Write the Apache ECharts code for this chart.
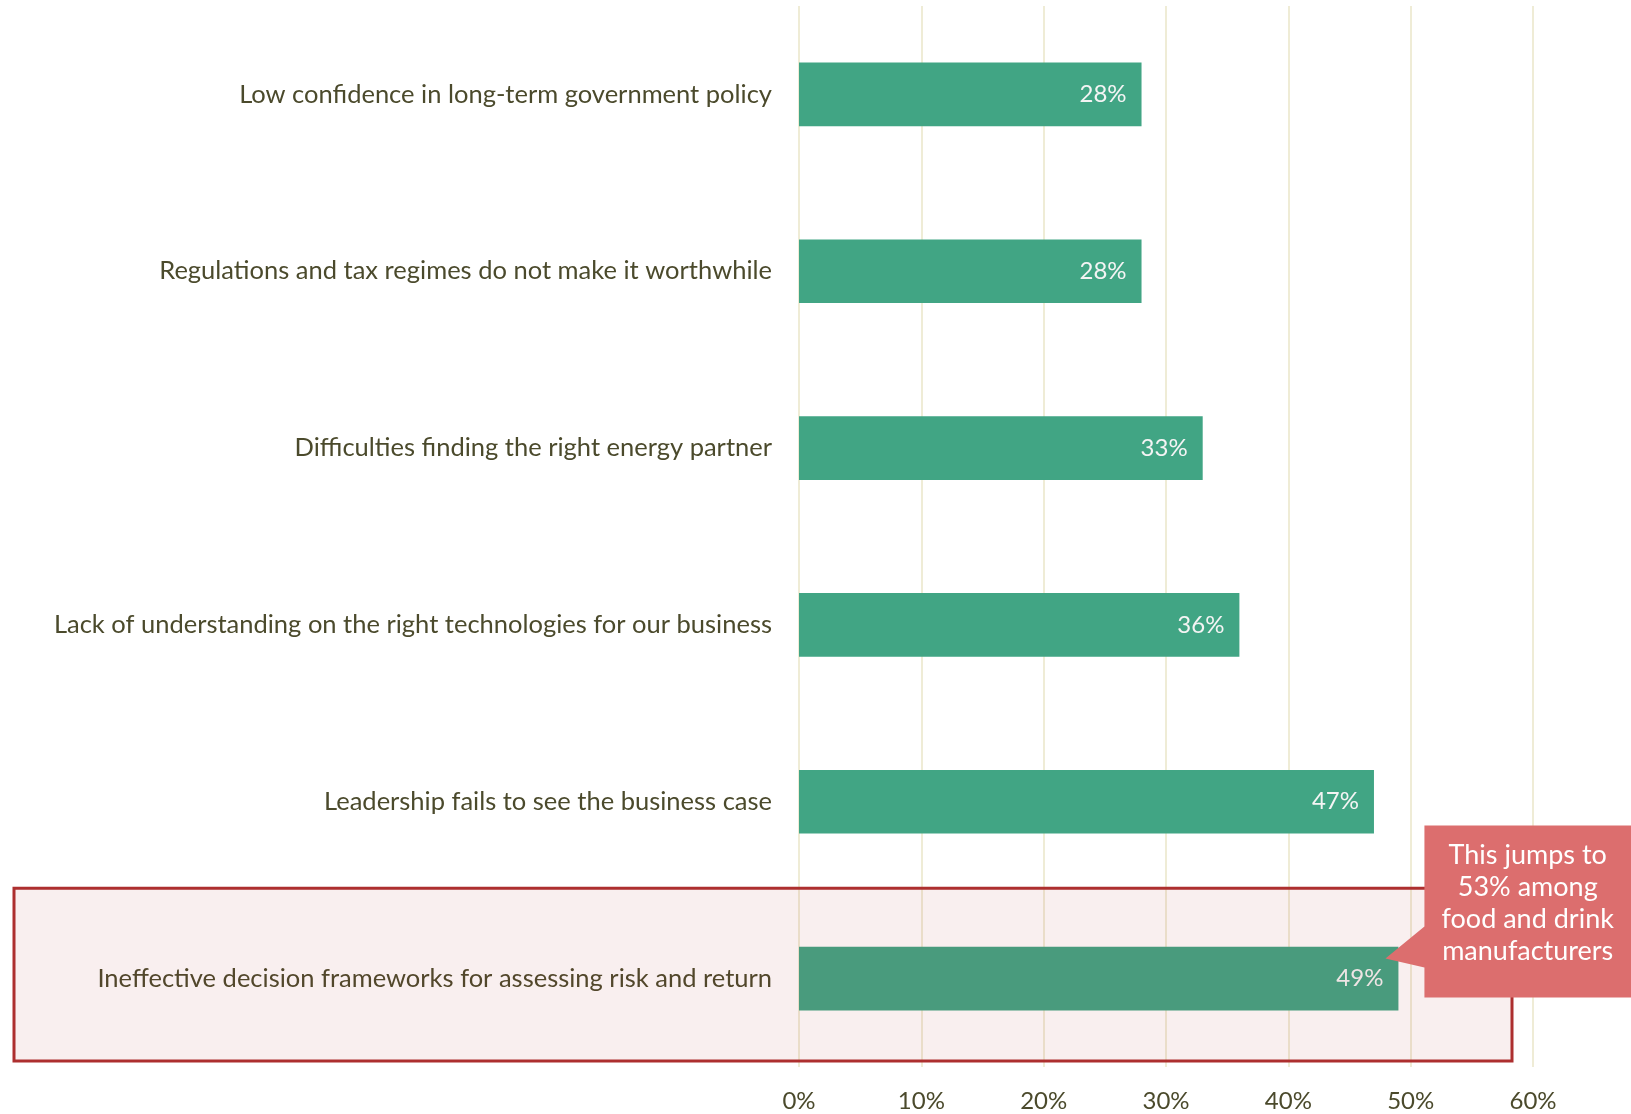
<!DOCTYPE html>
<html>
<head>
<meta charset="utf-8">
<script src="https://cdn.jsdelivr.net/npm/echarts@6/dist/echarts.min.js"></script>
<style>
html,body{margin:0;padding:0;background:#fff;}
#chart{width:1631px;height:1114px;}
</style>
</head>
<body>
<div id="chart"></div>
<script>
const categories = [
  'Low confidence in long-term government policy',
  'Regulations and tax regimes do not make it worthwhile',
  'Difficulties finding the right energy partner',
  'Lack of understanding on the right technologies for our business',
  'Leadership fails to see the business case',
  'Ineffective decision frameworks for assessing risk and return'
];
const values = [28, 28, 33, 36, 47, 49];
const highlightIndex = 5;
const calloutLines = ['This jumps to', '53% among', 'food and drink', 'manufacturers'];
const axisMin = 0, axisMax = 60, axisStep = 10;

const FONT = 'Lato, "Open Sans", sans-serif';
const TEXT = '#4b4a2c';
const BAR = '#41a584';

const chart = echarts.init(document.getElementById('chart'));
chart.setOption({
  backgroundColor: '#ffffff',
  animation: false,
  grid: { left: 799, right: 98, top: 6, bottom: 47, containLabel: false },
  xAxis: {
    type: 'value', min: axisMin, max: axisMax, interval: axisStep,
    axisLine: { show: false }, axisTick: { show: false },
    splitLine: { show: true, lineStyle: { color: '#efecd6', width: 2 } },
    axisLabel: { formatter: v => v + '%', color: TEXT, fontFamily: FONT, fontSize: 24, fontWeight: 400, margin: 22 }
  },
  yAxis: {
    type: 'category', data: categories, inverse: true,
    axisLine: { show: false }, axisTick: { show: false },
    axisLabel: { color: TEXT, fontFamily: FONT, fontSize: 25.5, fontWeight: 400, margin: 27 }
  },
  series: [{
    type: 'bar',
    data: values,
    itemStyle: { color: BAR },
    barCategoryGap: '64%',
    label: {
      show: true, position: 'insideRight', distance: 15,
      formatter: p => p.value + '%',
      color: '#f4f4f4', fontFamily: FONT, fontSize: 24, fontWeight: 400
    }
  }]
});

function drawAnnotations() {
  const c = chart.convertToPixel({ seriesIndex: 0 }, [values[highlightIndex], highlightIndex]);
  const prev = chart.convertToPixel({ seriesIndex: 0 }, [values[highlightIndex], highlightIndex - 1]);
  const band = c[1] - prev[1];
  const x60 = chart.convertToPixel({ xAxisIndex: 0 }, axisMax);
  const W = chart.getWidth();
  const px = c[0], py = c[1];
  const left = px + 26, top = py - 153, right = W, bottom = py + 19;
  chart.setOption({
    graphic: [
      {
        type: 'rect', z: 100,
        shape: { x: 14, y: py - band / 2 - 2, width: x60 - 21 - 14, height: band - 4 },
        style: { fill: 'rgba(176,44,44,0.075)', stroke: '#ad2f2f', lineWidth: 3 }
      },
      {
        type: 'polygon', z: 101,
        shape: { points: [[left, top], [right, top], [right, bottom], [left, bottom], [left, py - 11], [px - 13, py - 20], [left, py - 52]] },
        style: { fill: '#dc6e6e' }
      },
      {
        type: 'text', z: 102,
        x: (left + right) / 2, y: py - 75,
        style: {
          text: calloutLines.join('\n'), fill: '#ffffff', font: '27px ' + FONT,
          align: 'center', verticalAlign: 'middle', lineHeight: 32
        }
      }
    ]
  });
}
drawAnnotations();
</script>
</body>
</html>
